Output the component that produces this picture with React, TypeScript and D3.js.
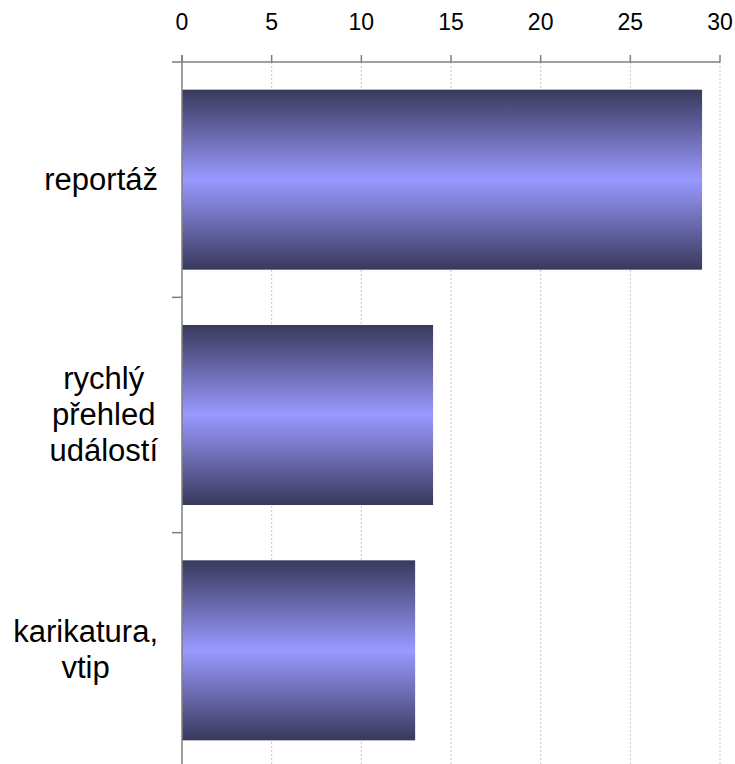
import React, { useEffect, useRef } from "react";
import * as d3 from "d3";

const categories = ["reportáž", "rychlý přehled událostí", "karikatura, vtip"];
const categoryLines = [["reportáž"], ["rychlý", "přehled", "událostí"], ["karikatura,", "vtip"]];
const values = [29, 14, 13];
const xTicks = [0, 5, 10, 15, 20, 25, 30];

const W = 735;
const H = 764;

export default function App() {
  const ref = useRef<SVGSVGElement>(null);

  useEffect(() => {
    const svg = d3.select(ref.current);
    svg.selectAll("*").remove();

    const left = 182, right = 720, top = 62, bottom = 768;
    const x = d3.scaleLinear().domain([0, 30]).range([left, right]);
    const y = d3.scaleBand<string>().domain(categories).range([top, bottom]).padding(0);
    const barFrac = 0.765;

    const defs = svg.append("defs");
    const grad = defs.append("linearGradient").attr("id", "barGrad").attr("x1", 0).attr("y1", 0).attr("x2", 0).attr("y2", 1);
    grad.append("stop").attr("offset", "0%").attr("stop-color", "#39395c");
    grad.append("stop").attr("offset", "50%").attr("stop-color", "#9999ff");
    grad.append("stop").attr("offset", "100%").attr("stop-color", "#39395c");

    // gridlines
    svg.append("g").selectAll("line").data(xTicks.filter((d) => d > 0)).join("line")
      .attr("x1", (d) => x(d)).attr("x2", (d) => x(d))
      .attr("y1", top).attr("y2", H)
      .attr("stroke", "#c8c8c8").attr("stroke-width", 1).attr("stroke-dasharray", "2,2");

    // bars
    svg.append("g").selectAll("rect").data(values).join("rect")
      .attr("x", x(0))
      .attr("y", (d, i) => (y(categories[i]) as number) + (y.bandwidth() * (1 - barFrac)) / 2)
      .attr("width", (d) => x(d) - x(0))
      .attr("height", y.bandwidth() * barFrac)
      .attr("fill", "url(#barGrad)");

    const axisColor = "#7f7f7f";
    // top axis line
    svg.append("line").attr("x1", left - 10).attr("x2", right).attr("y1", top).attr("y2", top)
      .attr("stroke", axisColor).attr("stroke-width", 1.5);
    // tick marks
    svg.append("g").selectAll("line").data(xTicks).join("line")
      .attr("x1", (d) => x(d)).attr("x2", (d) => x(d))
      .attr("y1", top - 7).attr("y2", top)
      .attr("stroke", axisColor).attr("stroke-width", 1.5);
    // tick labels
    svg.append("g").selectAll("text").data(xTicks).join("text")
      .attr("x", (d) => x(d)).attr("y", 30)
      .attr("text-anchor", "middle")
      .attr("font-family", "Liberation Sans, Arial, sans-serif")
      .attr("font-size", 23).attr("fill", "#000")
      .text((d) => String(d));

    // left axis
    svg.append("line").attr("x1", left).attr("x2", left).attr("y1", top - 7).attr("y2", H)
      .attr("stroke", axisColor).attr("stroke-width", 1.5);
    const boundaries = categories.slice(1).map((c) => y(c) as number);
    svg.append("g").selectAll("line").data(boundaries).join("line")
      .attr("x1", left - 10).attr("x2", left)
      .attr("y1", (d) => d).attr("y2", (d) => d)
      .attr("stroke", axisColor).attr("stroke-width", 1.5);

    // category labels
    const labelRight = 158;
    const fs = 31;
    const lh = 36;
    categoryLines.forEach((lines, i) => {
      const cy = (y(categories[i]) as number) + y.bandwidth() / 2;
      const g = svg.append("g");
      const texts = lines.map((ln, j) =>
        g.append("text")
          .attr("font-family", "Liberation Sans, Arial, sans-serif")
          .attr("font-size", fs).attr("fill", "#000")
          .attr("text-anchor", "middle")
          .attr("y", cy + (j - (lines.length - 1) / 2) * lh + 10)
          .text(ln)
      );
      let maxW = 0;
      texts.forEach((t) => {
        const w = (t.node() as SVGTextElement).getComputedTextLength();
        if (w > maxW) maxW = w;
      });
      texts.forEach((t) => t.attr("x", labelRight - maxW / 2));
    });
  }, []);

  return (
    <svg
      ref={ref}
      width={W}
      height={H}
      style={{ position: "absolute", left: 0, top: 0, background: "#fff" }}
    />
  );
}
